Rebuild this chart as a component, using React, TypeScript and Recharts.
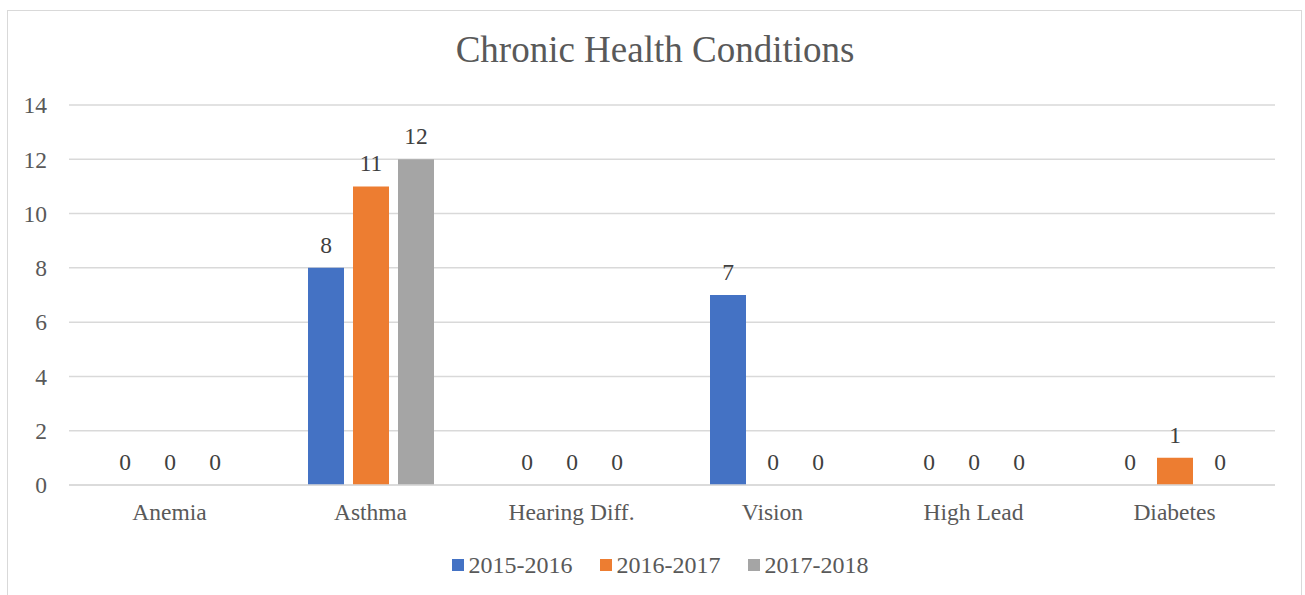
import React from 'react';
import { BarChart, Bar, XAxis, YAxis, CartesianGrid, LabelList } from 'recharts';

const categories = ['Anemia', 'Asthma', 'Hearing Diff.', 'Vision', 'High Lead', 'Diabetes'];
const s2015 = [0, 8, 0, 7, 0, 0];
const s2016 = [0, 11, 0, 0, 0, 1];
const s2017 = [0, 12, 0, 0, 0, 0];
const yTicks = [0, 2, 4, 6, 8, 10, 12, 14];
const seriesNames = ['2015-2016', '2016-2017', '2017-2018'];
const colors = ['#4472C4', '#ED7D31', '#A5A5A5'];

const data = categories.map((c, i) => ({
  name: c,
  a: s2015[i],
  b: s2016[i],
  c: s2017[i],
}));

const FONT = 'Liberation Serif';

export default function App() {
  return (
    <div style={{ position: 'absolute', left: 0, top: 0, width: 1305, height: 595, background: '#fff', overflow: 'hidden' }}>
      <div
        style={{
          position: 'absolute',
          left: 7,
          top: 10,
          width: 1295,
          height: 620,
          border: '1px solid #d9d9d9',
          boxSizing: 'border-box',
        }}
      />
      <div
        style={{
          position: 'absolute',
          left: 7,
          width: 1296,
          top: 28,
          textAlign: 'center',
          fontFamily: FONT,
          fontSize: 37,
          color: '#595959',
          lineHeight: '44px',
        }}
      >
        Chronic Health Conditions
      </div>
      <div style={{ position: 'absolute', left: 0, top: 0 }}>
        <BarChart
          width={1305}
          height={595}
          data={data}
          margin={{ top: 105, right: 30, left: 0, bottom: 80 }}
          barSize={36}
          barGap={9}
        >
          <CartesianGrid vertical={false} stroke="#d9d9d9" strokeWidth={1.5} />
          <XAxis
            dataKey="name"
            height={30}
            axisLine={{ stroke: '#d9d9d9', strokeWidth: 1.5 }}
            tickLine={false}
            tickMargin={12}
            interval={0}
            tick={{ fill: '#595959', fontSize: 23.5, fontFamily: FONT }}
          />
          <YAxis
            width={69}
            domain={[0, 14]}
            ticks={yTicks}
            axisLine={false}
            tickLine={false}
            tickMargin={16}
            tick={{ fill: '#595959', fontSize: 23.5, fontFamily: FONT }}
          />
          {(['a', 'b', 'c'] as const).map((k, i) => (
            <Bar key={k} dataKey={k} name={seriesNames[i]} fill={colors[i]} minPointSize={0.01} isAnimationActive={false}>
              <LabelList
                dataKey={k}
                position="top"
                offset={15}
                fill="#404040"
                fontSize={23.5}
                fontFamily={FONT}
              />
            </Bar>
          ))}
        </BarChart>
      </div>
      <div
        style={{
          position: 'absolute',
          left: 0,
          top: 550,
          width: 1305,
          display: 'flex',
          justifyContent: 'center',
          alignItems: 'center',
          fontFamily: FONT,
          fontSize: 24,
          lineHeight: '30px',
          color: '#595959',
          paddingLeft: 15,
          boxSizing: 'border-box',
        }}
      >
        {seriesNames.map((n, i) => (
          <div key={n} style={{ display: 'flex', alignItems: 'center', marginRight: i < 2 ? 27 : 0 }}>
            <div style={{ width: 12, height: 12, background: colors[i], marginRight: 5 }} />
            <span>{n}</span>
          </div>
        ))}
      </div>
    </div>
  );
}
